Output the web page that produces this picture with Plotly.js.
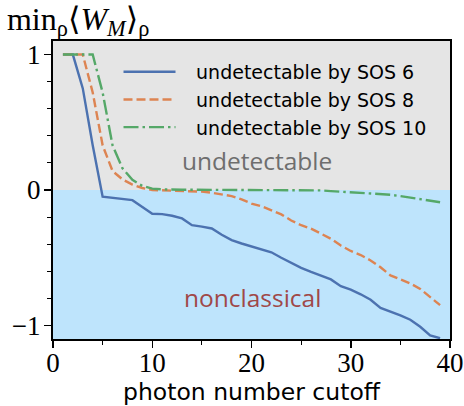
<!DOCTYPE html>
<html>
<head>
<meta charset="utf-8">
<script src="https://cdn.plot.ly/plotly-3.0.1.min.js"></script>
<style>html,body{margin:0;padding:0;background:#fff}#chart{width:464px;height:406px}</style>
</head>
<body>
<div id="chart"></div>
<script>
const cutoff = [1,2,3,4,5,6,7,8,9,10,11,12,13,14,15,16,17,18,19,20,21,22,23,24,25,26,27,28,29,30,31,32,33,34,35,36,37,38,39];
const sos6 = [1,1,0.75,0.33,-0.05,-0.06,-0.065,-0.075,-0.125,-0.175,-0.178,-0.19,-0.21,-0.26,-0.27,-0.284,-0.33,-0.37,-0.395,-0.415,-0.435,-0.46,-0.5,-0.54,-0.575,-0.605,-0.63,-0.66,-0.71,-0.735,-0.77,-0.81,-0.87,-0.895,-0.925,-0.958,-1.01,-1.074,-1.094];
const sos8 = [1,1,1,0.72,0.33,0.14,0.078,0.04,0.015,0,-0.002,-0.003,-0.005,-0.008,-0.012,-0.02,-0.03,-0.045,-0.07,-0.1,-0.12,-0.15,-0.18,-0.225,-0.26,-0.285,-0.32,-0.36,-0.41,-0.45,-0.48,-0.52,-0.57,-0.63,-0.66,-0.69,-0.73,-0.79,-0.85];
const sos10 = [1,1,1,1,0.72,0.33,0.16,0.075,0.03,0.01,0.005,0.002,0.002,0.002,0.002,0.002,0.002,0.002,0.002,0.002,0.002,0.002,0.002,0.002,0.002,0,-0.003,-0.008,-0.012,-0.015,-0.018,-0.022,-0.028,-0.035,-0.045,-0.055,-0.065,-0.078,-0.09];
const seriesNames = ['undetectable by SOS 6','undetectable by SOS 8','undetectable by SOS 10'];
const xTicks = [0,10,20,30,40];
const yTicks = [-1,0,1];

const sans = '"DejaVu Sans", sans-serif';
const serif = '"Liberation Serif", "DejaVu Serif", serif';
const pad = '\u2002\u00a0';

const traces = [
  {x: cutoff, y: sos6, name: pad + seriesNames[0], mode: 'lines', line: {color: '#4c72b0', width: 2.4}, legendgroup: 'a'},
  {x: cutoff, y: sos8, name: pad + seriesNames[1], mode: 'lines', line: {color: '#dd8452', width: 2.4, dash: '9px,4px'}, legendgroup: 'b'},
  {x: cutoff, y: sos10, name: pad + seriesNames[2], mode: 'lines', line: {color: '#55a868', width: 2.4, dash: '15px,4px,2.5px,4px'}, legendgroup: 'c'}
];

const tickFont = {family: serif, size: 27, color: '#000000'};

const layout = {
  width: 464, height: 406,
  font: {family: serif, size: 27, color: '#000000'},
  margin: {l: 53, r: 14, t: 41, b: 67},
  paper_bgcolor: '#ffffff',
  plot_bgcolor: '#e5e5e5',
  showlegend: true,
  legend: {x: 0.165, y: 0.96, xanchor: 'left', yanchor: 'top', bgcolor: 'rgba(0,0,0,0)', borderwidth: 0,
           itemwidth: 52,
           font: {family: sans, size: 19, color: '#000'}, traceorder: 'grouped', tracegroupgap: 0},
  title: {text: 'min<sub>ρ</sub>⟨<i>W</i><sub><i>M</i></sub>⟩<sub>ρ</sub>', x: 0.015, xanchor: 'left', y: 0.982, yanchor: 'top',
          font: {family: serif, size: 32, color: '#000'}},
  xaxis: {range: [0, 40], tickvals: xTicks, ticks: 'outside', ticklen: 7, tickwidth: 1.5, tickcolor: '#000',
          showline: true, linewidth: 2, linecolor: '#000', mirror: true, showgrid: false, zeroline: false,
          tickfont: tickFont, ticklabelstandoff: -8,
          minor: {dtick: 5, ticks: 'outside', ticklen: 4, tickwidth: 1, tickcolor: '#000', showgrid: false},
          title: {text: 'photon number cutoff', font: {family: sans, size: 23.5, color: '#000'}, standoff: 2}},
  yaxis: {range: [-1.1, 1.1], tickvals: yTicks, ticks: 'outside', ticklen: 7, tickwidth: 1.5, tickcolor: '#000',
          showline: true, linewidth: 2, linecolor: '#000', mirror: true, showgrid: false, zeroline: false,
          tickfont: tickFont, ticklabelstandoff: -2,
          minor: {dtick: 0.2, ticks: 'outside', ticklen: 4, tickwidth: 1, tickcolor: '#000', showgrid: false}},
  shapes: [
    {type: 'rect', xref: 'paper', yref: 'y', x0: 0, x1: 1, y0: -1.2, y1: 0, fillcolor: '#bee4fc', line: {width: 0}, layer: 'below'}
  ],
  annotations: [
    {x: 20.6, y: 0.22, xref: 'x', yref: 'y', text: 'undetectable', showarrow: false, font: {family: '"Open Sans", sans-serif', size: 24.5, color: '#6e6e6e'}},
    {x: 20.1, y: -0.79, xref: 'x', yref: 'y', text: 'nonclassical', showarrow: false, font: {family: '"Open Sans", sans-serif', size: 24.5, color: '#a04848'}}
  ]
};

Plotly.newPlot('chart', traces, layout, {displayModeBar: false, staticPlot: true});
</script>
</body>
</html>
